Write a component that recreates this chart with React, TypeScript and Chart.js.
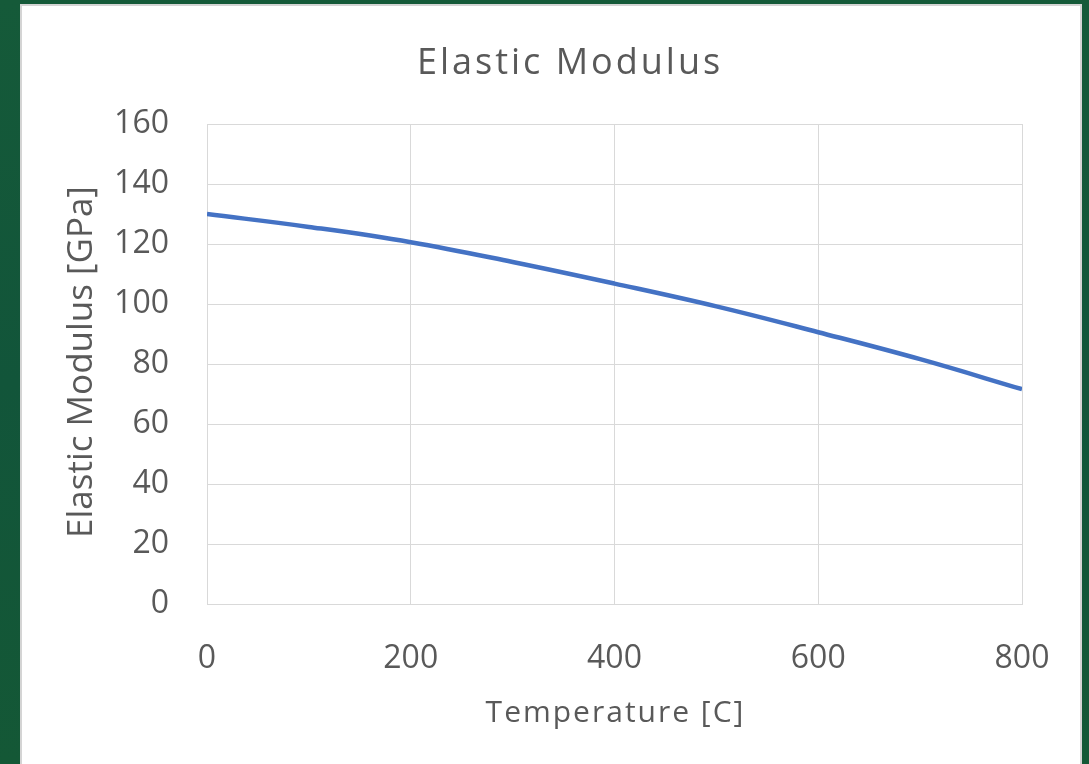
import React, { useEffect, useRef } from "react";
import { Chart, registerables } from "chart.js";

Chart.register(...registerables);

// Temperature [C] and elastic modulus [GPa]
const temperatures = [0, 100, 200, 300, 400, 500, 600, 700, 800];
const modulus = [130, 125.7, 120.6, 114, 106.8, 99.2, 90.6, 81.6, 71.6];
const xTicks = [0, 200, 400, 600, 800];
const yTicks = [0, 20, 40, 60, 80, 100, 120, 140, 160];

const chartTitle = "Elastic Modulus";
const xTitle = "Temperature [C]";
const yTitle = "Elastic Modulus [GPa]";

const FONT = "'Open Sans', 'Noto Sans', sans-serif";
const TEXT = "#595959";
const GRID = "#d9d9d9";

// Chart and axis titles, drawn with a little letter spacing
const titlesPlugin = {
  id: "frameTitles",
  afterDraw(chart: Chart) {
    const ctx = chart.ctx as any;
    const area = chart.chartArea;
    ctx.save();
    ctx.fillStyle = TEXT;
    ctx.textAlign = "center";
    ctx.textBaseline = "alphabetic";

    ctx.font = `36px ${FONT}`;
    ctx.letterSpacing = "3px";
    ctx.fillText(chartTitle, chart.width / 2 + 19, 68);

    ctx.font = `30px ${FONT}`;
    ctx.letterSpacing = "2px";
    ctx.fillText(xTitle, (area.left + area.right) / 2 + 1, 716);

    ctx.font = `35px ${FONT}`;
    ctx.letterSpacing = "0px";
    ctx.translate(70, (area.top + area.bottom) / 2 - 2);
    ctx.rotate(-Math.PI / 2);
    ctx.fillText(yTitle, 0, 0);
    ctx.restore();
  },
};

export default function App() {
  const canvasRef = useRef<HTMLCanvasElement | null>(null);

  useEffect(() => {
    const canvas = canvasRef.current;
    if (!canvas) return;
    const chart = new Chart(canvas, {
      type: "line",
      data: {
        datasets: [
          {
            data: temperatures.map((t, i) => ({ x: t, y: modulus[i] })),
            borderColor: "#4472c4",
            borderWidth: 4.5,
            pointRadius: 0,
            fill: false,
            tension: 0.4,
          },
        ],
      },
      options: {
        animation: false,
        responsive: false,
        layout: { padding: { top: 118, right: 58, left: 0, bottom: 0 } },
        plugins: {
          legend: { display: false },
          tooltip: { enabled: false },
          title: { display: false },
        },
        scales: {
          x: {
            type: "linear",
            min: 0,
            max: 800,
            afterBuildTicks: (scale: any) => {
              scale.ticks = xTicks.map((v) => ({ value: v }));
            },
            afterFit: (scale: any) => {
              scale.height = 160;
              scale.paddingLeft = 0;
              scale.paddingRight = 0;
            },
            grid: { color: GRID, lineWidth: 1, drawTicks: false },
            border: { color: GRID, width: 1 },
            ticks: {
              color: TEXT,
              font: { family: FONT, size: 32 },
              padding: 36,
              maxRotation: 0,
            },
          },
          y: {
            type: "linear",
            min: 0,
            max: 160,
            afterBuildTicks: (scale: any) => {
              scale.ticks = yTicks.map((v) => ({ value: v }));
            },
            afterFit: (scale: any) => {
              scale.width = 185;
            },
            grid: { color: GRID, lineWidth: 1, drawTicks: false },
            border: { color: GRID, width: 1 },
            ticks: {
              color: TEXT,
              font: { family: FONT, size: 32 },
              padding: 38,
            },
          },
        },
      },
      plugins: [titlesPlugin],
    });
    return () => chart.destroy();
  }, []);

  return (
    <div
      style={{
        position: "fixed",
        inset: 0,
        background: "linear-gradient(180deg, #155a39 0%, #12553a 50%, #145836 100%)",
        overflow: "hidden",
      }}
    >
      <div
        style={{
          position: "absolute",
          left: 20,
          top: 4,
          width: 1058,
          height: 800,
          background: "#ffffff",
          border: "2px solid #d4d4d4",
          overflow: "hidden",
        }}
      >
        <canvas ref={canvasRef} width={1058} height={758} style={{ display: "block" }} />
      </div>
    </div>
  );
}
